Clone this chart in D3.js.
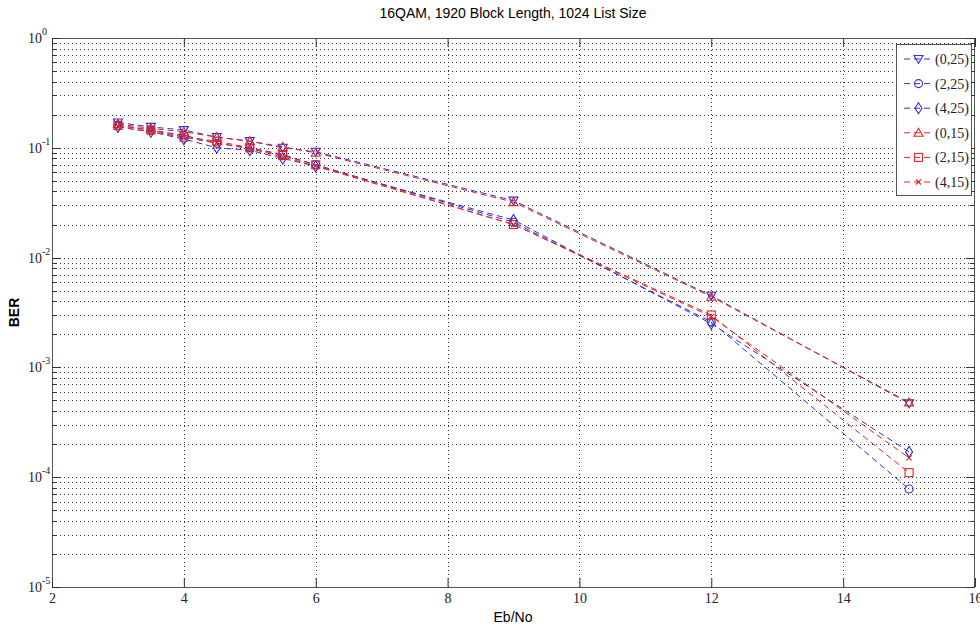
<!DOCTYPE html>
<html>
<head>
<meta charset="utf-8">
<script src="https://cdn.jsdelivr.net/npm/d3@7"></script>
<style>
  body { margin: 0; background: #fff; }
  svg { display: block; }
  .tick text { font-family: "Liberation Serif", serif; font-size: 14px; fill: #222; }
</style>
</head>
<body>
<svg width="980" height="628"></svg>
<script>
// data
var ebno = [3, 3.5, 4, 4.5, 5, 5.5, 6, 9, 12, 15];
var ber_0_25 = [0.170, 0.155, 0.145, 0.125, 0.115, 0.100, 0.092, 0.033, 0.0045, 0.00047];
var ber_2_25 = [0.160, 0.145, 0.130, 0.110, 0.100, 0.087, 0.070, 0.021, 0.0026, 0.000078];
var ber_4_25 = [0.155, 0.140, 0.120, 0.100, 0.095, 0.080, 0.068, 0.022, 0.0025, 0.00017];
var ber_0_15 = [0.165, 0.150, 0.140, 0.125, 0.115, 0.102, 0.090, 0.032, 0.0044, 0.00048];
var ber_2_15 = [0.160, 0.145, 0.125, 0.115, 0.100, 0.085, 0.070, 0.020, 0.0030, 0.00011];
var ber_4_15 = [0.155, 0.140, 0.125, 0.110, 0.098, 0.083, 0.068, 0.020, 0.0029, 0.00015];
var names = ["(0,25)", "(2,25)", "(4,25)", "(0,15)", "(2,15)", "(4,15)"];
var markers = ["tridown", "circle", "diamond", "triup", "square", "cross"];
var xTicks = [2, 4, 6, 8, 10, 12, 14, 16];
var yExps = [0, -1, -2, -3, -4, -5];

var blue = "#2f2fd6", red = "#e02424";
var series = [
  {name: names[0], y: ber_0_25, color: blue, marker: markers[0]},
  {name: names[1], y: ber_2_25, color: blue, marker: markers[1]},
  {name: names[2], y: ber_4_25, color: blue, marker: markers[2]},
  {name: names[3], y: ber_0_15, color: red, marker: markers[3]},
  {name: names[4], y: ber_2_15, color: red, marker: markers[4]},
  {name: names[5], y: ber_4_15, color: red, marker: markers[5]}
];

var pLeft = 52, pRight = 975, pTop = 38, pBottom = 587;
var svg = d3.select("svg");

var x = d3.scaleLinear().domain([2, 16]).range([pLeft, pRight]);
var y = d3.scaleLog().domain([1e-5, 1]).range([pBottom, pTop]);

// minor values on the log axis
var minor = [];
yExps.slice(1).forEach(function(e) {
  for (var k = 2; k <= 9; k++) minor.push(k * Math.pow(10, e));
});
var major = yExps.map(function(e) { return Math.pow(10, e); });

var grid = svg.append("g").attr("class", "grid")
  .attr("stroke", "#333").attr("stroke-width", 1).attr("stroke-dasharray", "1,3");

grid.selectAll("line.gy").data(major.concat(minor)).enter().append("line")
  .attr("x1", pLeft).attr("x2", pRight)
  .attr("y1", function(d) { return Math.round(y(d)) + 0.5; })
  .attr("y2", function(d) { return Math.round(y(d)) + 0.5; });

grid.selectAll("line.gx").data(xTicks.slice(1, -1)).enter().append("line")
  .attr("y1", pTop).attr("y2", pBottom)
  .attr("x1", function(d) { return Math.round(x(d)) + 0.5; })
  .attr("x2", function(d) { return Math.round(x(d)) + 0.5; });

// series lines
var line = d3.line()
  .x(function(d, i) { return x(ebno[i]); })
  .y(function(d) { return y(d); });

var plot = svg.append("g");
series.forEach(function(s) {
  plot.append("path")
    .attr("d", line(s.y))
    .attr("fill", "none")
    .attr("stroke", s.color)
    .attr("stroke-width", 1)
    .attr("stroke-dasharray", "6,4");
});

function drawMarker(g, type, cx, cy, color) {
  var r = 4.5;
  var el;
  if (type == "circle") {
    el = g.append("circle").attr("cx", cx).attr("cy", cy).attr("r", r - 0.5);
  } else if (type == "square") {
    el = g.append("rect").attr("x", cx - r + 0.5).attr("y", cy - r + 0.5).attr("width", 2 * r - 1).attr("height", 2 * r - 1);
  } else if (type == "diamond") {
    el = g.append("path").attr("d", "M" + cx + "," + (cy - r - 1) + "L" + (cx + r - 1) + "," + cy + "L" + cx + "," + (cy + r + 1) + "L" + (cx - r + 1) + "," + cy + "Z");
  } else if (type == "triup") {
    el = g.append("path").attr("d", "M" + cx + "," + (cy - r) + "L" + (cx + r) + "," + (cy + r - 1) + "L" + (cx - r) + "," + (cy + r - 1) + "Z");
  } else if (type == "tridown") {
    el = g.append("path").attr("d", "M" + cx + "," + (cy + r) + "L" + (cx + r) + "," + (cy - r + 1) + "L" + (cx - r) + "," + (cy - r + 1) + "Z");
  } else {
    el = g.append("path").attr("d", "M" + (cx - 2.5) + "," + (cy - 2.5) + "L" + (cx + 2.5) + "," + (cy + 2.5) + "M" + (cx - 2.5) + "," + (cy + 2.5) + "L" + (cx + 2.5) + "," + (cy - 2.5));
  }
  el.attr("fill", "none").attr("stroke", color).attr("stroke-width", 1.1);
}

series.forEach(function(s) {
  var mg = plot.append("g");
  s.y.forEach(function(v, i) {
    drawMarker(mg, s.marker, x(ebno[i]), y(v), s.color);
  });
});

// frame
svg.append("rect")
  .attr("x", pLeft + 0.5).attr("y", pTop + 0.5)
  .attr("width", pRight - pLeft - 1).attr("height", pBottom - pTop)
  .attr("fill", "none").attr("stroke", "#555").attr("stroke-width", 1);

// x axis ticks and labels
var xAxis = d3.axisBottom(x).tickValues(xTicks).tickSize(-9).tickPadding(6).tickFormat(d3.format("d"));
var gx = svg.append("g").attr("transform", "translate(0," + pBottom + ")").call(xAxis);
gx.select(".domain").remove();
gx.selectAll(".tick line").attr("stroke", "#333");
svg.append("g").attr("transform", "translate(0," + pTop + ")")
  .call(d3.axisTop(x).tickValues(xTicks).tickSize(-9).tickFormat(""))
  .call(function(g) { g.select(".domain").remove(); g.selectAll(".tick line").attr("stroke", "#333"); });

// y ticks inward, both sides
var yTicksG = svg.append("g").attr("stroke", "#333").attr("stroke-width", 1);
[pLeft, pRight].forEach(function(xx, side) {
  var dir = side == 0 ? 1 : -1;
  yTicksG.selectAll(null).data(major).enter().append("line")
    .attr("x1", xx).attr("x2", xx + dir * 9)
    .attr("y1", function(d) { return Math.round(y(d)) + 0.5; })
    .attr("y2", function(d) { return Math.round(y(d)) + 0.5; });
  yTicksG.selectAll(null).data(minor).enter().append("line")
    .attr("x1", xx).attr("x2", xx + dir * 5)
    .attr("y1", function(d) { return Math.round(y(d)) + 0.5; })
    .attr("y2", function(d) { return Math.round(y(d)) + 0.5; });
});

// y labels 10^e
var yl = svg.append("g").attr("font-family", "Liberation Serif, serif").attr("fill", "#222");
yExps.forEach(function(e) {
  yl.append("text").attr("x", 42).attr("y", y(Math.pow(10, e)) + 5)
    .attr("text-anchor", "end").attr("font-size", 14).text("10");
  yl.append("text").attr("x", 42).attr("y", y(Math.pow(10, e)) - 3)
    .attr("font-size", 10).text(e);
});

// titles
svg.append("text").attr("x", 513).attr("y", 18).attr("text-anchor", "middle")
  .attr("font-family", "Liberation Sans, Arial, sans-serif").attr("font-size", 14)
  .text("16QAM, 1920 Block Length, 1024 List Size");
svg.append("text").attr("x", 513).attr("y", 622).attr("text-anchor", "middle")
  .attr("font-family", "Liberation Sans, Arial, sans-serif").attr("font-size", 14)
  .text("Eb/No");
svg.append("text").attr("transform", "translate(19," + ((pTop + pBottom) / 2) + ") rotate(-90)")
  .attr("text-anchor", "middle")
  .attr("font-family", "Liberation Sans, Arial, sans-serif").attr("font-size", 14).attr("font-weight", "bold")
  .text("BER");

// legend
var lg = svg.append("g").attr("transform", "translate(896,44)");
lg.append("rect").attr("x", 0.5).attr("y", 0.5).attr("width", 75).attr("height", 151)
  .attr("fill", "#fff").attr("stroke", "#555");
series.forEach(function(s, i) {
  var yy = 15 + i * 24.6;
  lg.append("line").attr("x1", 8).attr("x2", 37).attr("y1", yy).attr("y2", yy)
    .attr("stroke", s.color).attr("stroke-dasharray", "6,4");
  drawMarker(lg, s.marker, 22.5, yy, s.color);
  lg.append("text").attr("x", 39).attr("y", yy + 5)
    .attr("font-family", "Liberation Serif, serif").attr("font-size", 14).attr("fill", "#222")
    .text(s.name);
});
</script>
</body>
</html>
